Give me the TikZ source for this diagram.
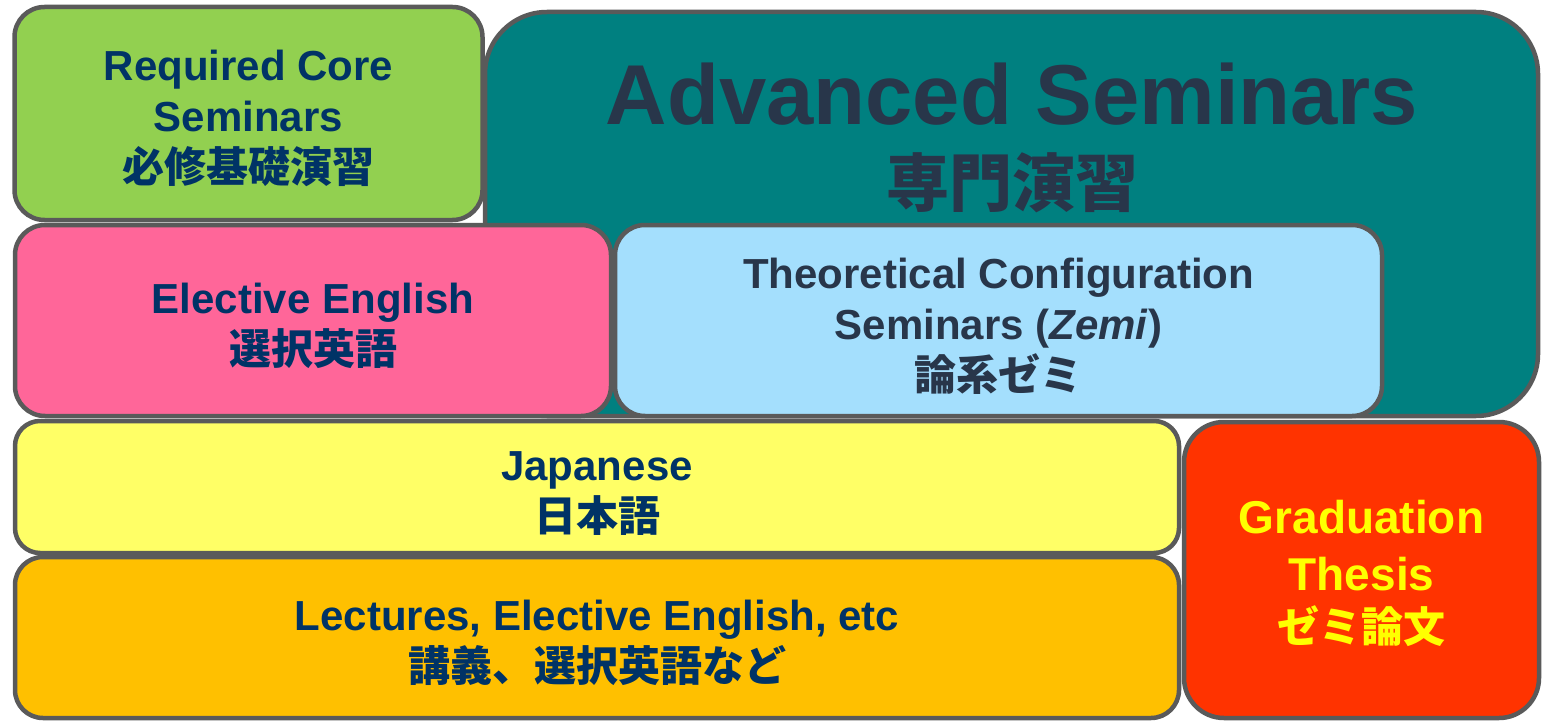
\documentclass[tikz,border=0pt]{standalone}
\usepackage{fontspec}
\setmainfont{Liberation Sans}
\newfontfamily\cjk{Noto Sans CJK JP}
\newcommand\tstrut{\rule{0pt}{41pt}}
\definecolor{edgegray}{HTML}{5A5A5A}
\definecolor{navytext}{HTML}{003366}
\definecolor{slatetext}{HTML}{28364A}
\definecolor{greenfill}{HTML}{92D050}
\definecolor{tealfill}{HTML}{008080}
\definecolor{pinkfill}{HTML}{FF6699}
\definecolor{bluefill}{HTML}{A4DFFD}
\definecolor{yellowfill}{HTML}{FFFF66}
\definecolor{orangefill}{HTML}{FFC000}
\definecolor{redfill}{HTML}{FF3300}
\definecolor{thesistext}{HTML}{FFFF00}
\begin{document}
\begin{tikzpicture}[x=1pt,y=-1pt,
  box/.style={draw=edgegray, line width=4.5pt, rounded corners=#1, inner sep=0pt,
    align=center, font=\bfseries\fontsize{42}{51}\selectfont},
  box/.default=30pt]
\fill[white] (0,0) rectangle (1544,722);
\useasboundingbox (0,0) rectangle (1544,722);
% Advanced seminars (background)
\node[box=62pt, fill=tealfill, minimum width=1053pt, minimum height=404pt] (adv) at (1011.5,214) {};
\node[anchor=base, inner sep=0pt, text=slatetext, font=\bfseries\fontsize{85}{100}\selectfont] (advt) at (1012,125) {Advanced Seminars};
\node[anchor=base, inner sep=0pt, text=slatetext, font=\cjk\bfseries\fontsize{63}{70}\selectfont] (advj) at (1012,207) {専門演習};
% Required core
\node[box, fill=greenfill, text=navytext, minimum width=468pt, minimum height=213pt] (core) at (248.5,113.5)
  {\tstrut Required Core\\Seminars\\{\cjk 必修基礎演習}};
% Elective English
\node[box, fill=pinkfill, text=navytext, minimum width=596pt, minimum height=191pt] (eng) at (313,320.5)
  {\tstrut Elective English\\{\cjk 選択英語}};
% Theoretical configuration
\node[box, fill=bluefill, text=slatetext, minimum width=767pt, minimum height=191pt] (theo) at (998.5,320.5)
  {\tstrut Theoretical Configuration\\Seminars (\textit{Zemi})\\{\cjk 論系ゼミ}};
% Japanese
\node[box=25pt, fill=yellowfill, text=navytext, minimum width=1164pt, minimum height=132pt] (jap) at (597,487)
  {\tstrut Japanese\\{\cjk 日本語}};
% Lectures
\node[box=28pt, fill=orangefill, text=navytext, minimum width=1164pt, minimum height=161pt] (lec) at (597,637.5)
  {\tstrut Lectures, Elective English, etc\\{\cjk 講義、選択英語など}};
% Graduation thesis
\node[box=40pt, fill=redfill, text=thesistext, minimum width=355pt, minimum height=296pt,
  font=\bfseries\fontsize{46}{57}\selectfont] (thesis) at (1361.5,570)
  {\tstrut Graduation\\Thesis\\[-5pt]{\cjk\fontsize{42}{57}\selectfont ゼミ論文}};
\end{tikzpicture}
\end{document}
